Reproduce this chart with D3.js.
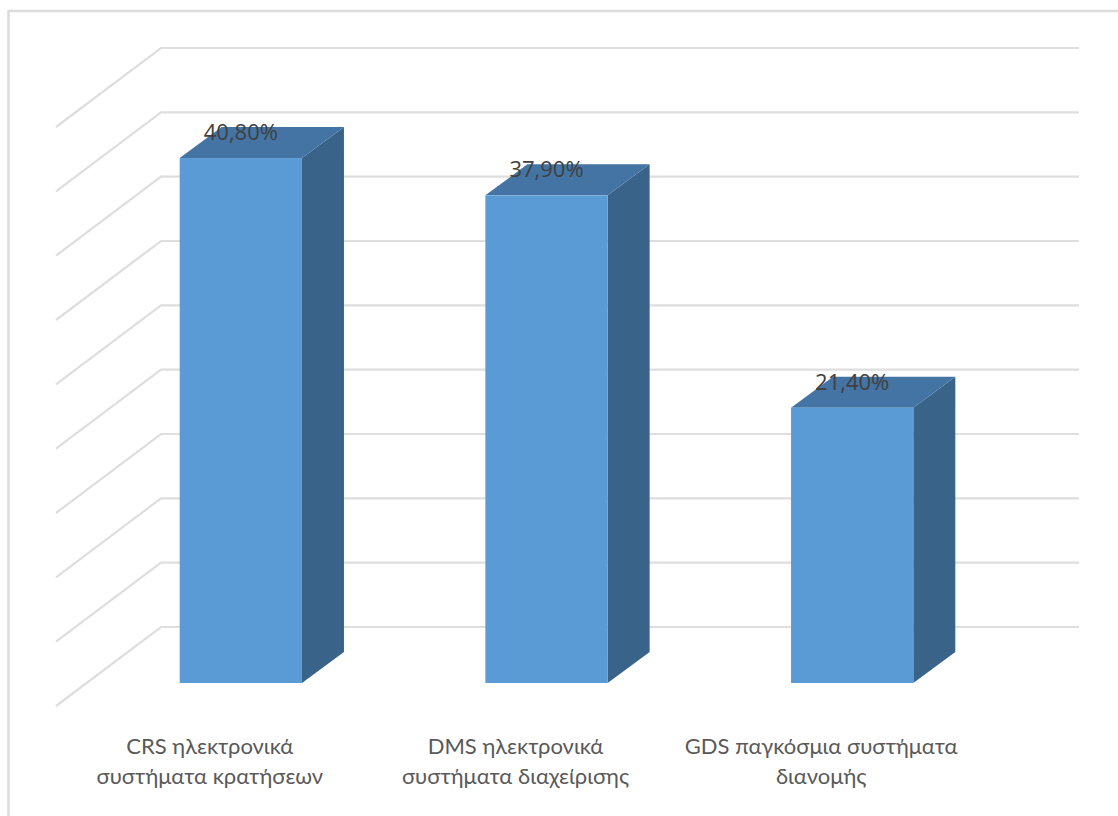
<!DOCTYPE html>
<html>
<head>
<meta charset="utf-8">
<script src="https://cdnjs.cloudflare.com/ajax/libs/d3/7.8.5/d3.min.js"></script>
<style>
html,body{margin:0;padding:0;background:#fff;overflow:hidden}
svg{display:block}
</style>
</head>
<body>
<svg id="chart" width="1118" height="816"></svg>
<script>
// Chart data
const categories = ["CRS", "DMS", "GDS"];
const categoryLines = [
  ["CRS ηλεκτρονικά", "συστήματα κρατήσεων"],
  ["DMS ηλεκτρονικά", "συστήματα διαχείρισης"],
  ["GDS παγκόσμια συστήματα", "διανομής"]
];
const values = [40.8, 37.9, 21.4];
const valueLabels = ["40,80%", "37,90%", "21,40%"];
const gridTicks = [0, 5, 10, 15, 20, 25, 30, 35, 40, 45];

const svg = d3.select("#chart");

// Oblique projection of the 3D column chart
const baselineY = 683;
const wallShift = { x: 105, y: 79 };
const wallBottomY = 627;
const barDepth = { x: 42, y: 31 };

const y = d3.scaleLinear().domain([0, 45]).range([baselineY, baselineY - 579]);
const x = d3.scaleBand().domain(categories).range([88, 1005]).paddingInner(0.6).paddingOuter(0.3);
const wallY = v => y(v) - (baselineY - wallBottomY);
const wallLeft = 161, wallRight = 1079;

// Outer chart frame, open on the right and at the bottom
svg.append("path")
  .attr("d", "M8.5,816V11H1118")
  .attr("fill", "none").attr("stroke", "#dcdcdc").attr("stroke-width", 2.5);

// Gridlines on the back wall and side wall
svg.append("g").selectAll("path").data(gridTicks).join("path")
  .attr("d", t => d3.line()([
    [wallLeft - wallShift.x, wallY(t) + wallShift.y],
    [wallLeft, wallY(t)],
    [wallRight, wallY(t)]
  ]))
  .attr("fill", "none").attr("stroke", "#dedede").attr("stroke-width", 2.2);

// Columns: right side, top, then front face
const bars = svg.append("g").selectAll("g").data(categories).join("g");
const left = c => x(c), right = c => x(c) + x.bandwidth();
const val = i => values[i];

bars.append("path")
  .attr("fill", "#3a638a")
  .attr("d", (c, i) => d3.line()([
    [right(c), y(val(i))],
    [right(c) + barDepth.x, y(val(i)) - barDepth.y],
    [right(c) + barDepth.x, baselineY - barDepth.y],
    [right(c), baselineY]
  ]) + "Z");

bars.append("path")
  .attr("fill", "#4474a3")
  .attr("d", (c, i) => d3.line()([
    [left(c), y(val(i))],
    [left(c) + barDepth.x, y(val(i)) - barDepth.y],
    [right(c) + barDepth.x, y(val(i)) - barDepth.y],
    [right(c), y(val(i))]
  ]) + "Z");

bars.append("rect")
  .attr("fill", "#5b9bd5")
  .attr("x", c => left(c))
  .attr("y", (c, i) => y(val(i)))
  .attr("width", x.bandwidth())
  .attr("height", (c, i) => baselineY - y(val(i)));

// Value labels over the column tops
svg.append("g").selectAll("text").data(categories).join("text")
  .attr("x", c => x(c) + x.bandwidth() / 2)
  .attr("y", (c, i) => y(val(i)) - 18)
  .attr("text-anchor", "middle")
  .attr("font-family", "'Open Sans', sans-serif")
  .attr("font-size", 22)
  .attr("fill", "#404040")
  .text((c, i) => valueLabels[i]);

// Two-line category labels
const labelShift = -31;
const labels = svg.append("g").selectAll("text").data(categories).join("text")
  .attr("text-anchor", "middle")
  .attr("font-family", "Lato, sans-serif")
  .attr("font-size", 22)
  .attr("fill", "#595959");
labels.selectAll("tspan").data((c, i) => categoryLines[i].map(t => ({ c, t }))).join("tspan")
  .attr("x", d => x(d.c) + x.bandwidth() / 2 + labelShift)
  .attr("y", (d, j) => 754 + j * 29.5)
  .text(d => d.t);
</script>
</body>
</html>
